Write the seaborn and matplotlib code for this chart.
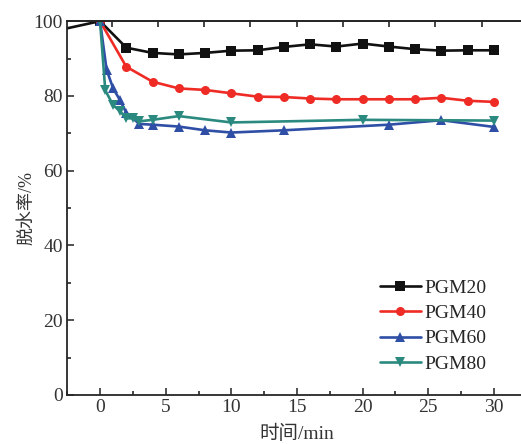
"""Dewatering rate vs time for PGM samples."""

import matplotlib

matplotlib.use("Agg")

import matplotlib.pyplot as plt
import pandas as pd
import seaborn as sns
from matplotlib.ticker import MultipleLocator, NullFormatter

t20 = [-3, 0, 2, 4, 6, 8, 10, 12, 14, 16, 18, 20, 22, 24, 26, 28, 30]
v20 = [97.7, 100, 92.9, 91.5, 91.1, 91.5, 92.1, 92.2, 93.1, 93.8, 93.2, 94.0, 93.2, 92.5, 92.1, 92.2, 92.2]

t40 = [0, 2, 4, 6, 8, 10, 12, 14, 16, 18, 20, 22, 24, 26, 28, 30]
v40 = [100, 87.8, 83.8, 82.0, 81.6, 80.7, 79.8, 79.7, 79.3, 79.1, 79.1, 79.1, 79.1, 79.5, 78.7, 78.4]

t60 = [0, 0.5, 1, 1.5, 2, 3, 4, 6, 8, 10, 14, 22, 26, 30]
v60 = [100, 87.0, 82.0, 79.0, 75.5, 72.5, 72.3, 71.8, 70.8, 70.2, 70.8, 72.3, 73.5, 71.7]

t80 = [0, 0.4, 1, 1.5, 2, 2.5, 3, 4, 6, 10, 20, 30]
v80 = [100, 81.5, 77.5, 76.0, 74.0, 74.0, 73.2, 73.6, 74.6, 72.9, 73.6, 73.4]

labels = ["PGM20", "PGM40", "PGM60", "PGM80"]
colors = ["#111111", "#ee2b24", "#2f4fa6", "#2a8a80"]
markers = ["s", "o", "^", "v"]

frames = []
for name, t, v in zip(labels, [t20, t40, t60, t80], [v20, v40, v60, v80]):
    frames.append(pd.DataFrame({"time": t, "rate": v, "sample": name}))
df = pd.concat(frames, ignore_index=True)

sns.set_style("ticks")
plt.rcParams["font.family"] = ["Liberation Serif", "Noto Sans CJK SC"]
plt.rcParams["xtick.direction"] = "in"
plt.rcParams["ytick.direction"] = "in"

fig = plt.figure(figsize=(5.21, 4.44), dpi=100)
ax = fig.add_axes([0.129, 0.1104, 0.882, 0.842])

sns.lineplot(
    data=df,
    x="time",
    y="rate",
    hue="sample",
    style="sample",
    palette=dict(zip(labels, colors)),
    markers=dict(zip(labels, markers)),
    dashes=False,
    linewidth=1.9,
    markersize=6.5,
    markeredgewidth=0,
    ax=ax,
)

ax.set_xlim(-2.5, 32.5)
ax.set_ylim(0, 100)
ax.xaxis.set_major_locator(MultipleLocator(5))
ax.xaxis.set_minor_locator(MultipleLocator(2.5))
ax.yaxis.set_major_locator(MultipleLocator(20))
ax.yaxis.set_minor_locator(MultipleLocator(10))
ax.tick_params(which="major", length=5, width=1.2, labelsize=14, colors="#333333", pad=3)
ax.tick_params(which="minor", length=3, width=1.2)
for side in ["left", "bottom", "top"]:
    ax.spines[side].set_linewidth(1.3)
ax.spines["right"].set_visible(False)

top = ax.twiny()
top.set_xlim(-0.962, 8.975)
top.xaxis.set_major_locator(MultipleLocator(1))
top.xaxis.set_major_formatter(NullFormatter())
top.tick_params(axis="x", direction="in", length=4, width=1.2)
for side in ["left", "bottom", "right"]:
    top.spines[side].set_visible(False)
top.spines["top"].set_linewidth(1.3)

ax.set_xlabel("时间/min", fontsize=14, labelpad=6, color="#333333")
ax.set_ylabel("脱水率/%", fontsize=13, labelpad=-1, color="#333333")

ax.legend(
    loc="upper left",
    bbox_to_anchor=(0.68, 0.31),
    frameon=False,
    fontsize=14,
    handlelength=2.1,
    handletextpad=0.2,
    labelspacing=0.4,
    borderpad=0,
    borderaxespad=0,
)

fig.savefig("out.png", dpi=100)
plt.close(fig)
